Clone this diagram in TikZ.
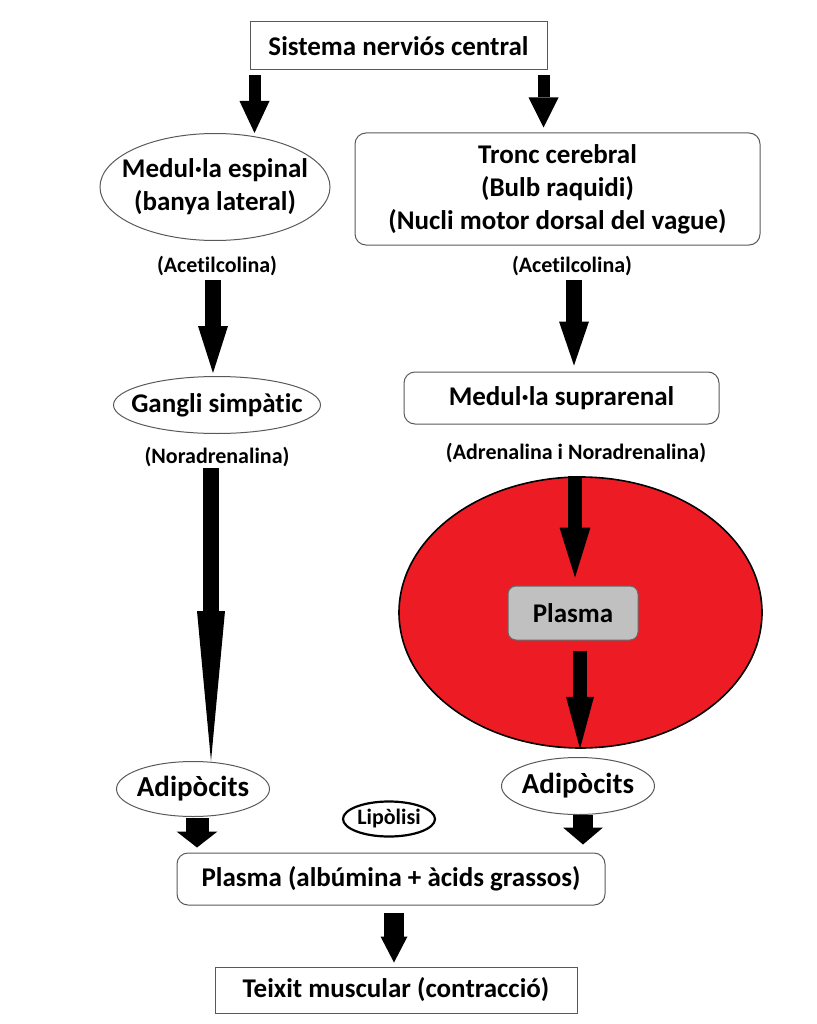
\documentclass[tikz,border=0pt]{standalone}
\usepackage{fontspec}
\setmainfont{Carlito}[Ligatures={NoCommon}]
\usetikzlibrary{arrows.meta,shapes.geometric,calc}
\definecolor{sangvermell}{RGB}{237,28,36}
\definecolor{grisplasma}{RGB}{192,192,192}
\newcommand\txtgran{\fontsize{27}{33}\selectfont\bfseries}
\newcommand\txtpetit{\fontsize{22}{26}\selectfont\bfseries}
\newcommand\txtadip{\fontsize{29}{33}\selectfont\bfseries}
\begin{document}
\begin{tikzpicture}[x=1pt,y=-1pt,font=\txtgran,
  caixa/.style={draw=black!65,line width=1pt,inner sep=0pt},
  rcaixa/.style={caixa,rounded corners=11pt},
  oval/.style={draw=black!65,line width=1pt,ellipse,inner sep=0pt},
  neuro/.style={font=\txtpetit,inner sep=1pt},
  fletxa/.style n args={3}{line width=#1,-{Triangle[width=#2,length=#3,line width=0pt]}}]
\useasboundingbox (0,0) rectangle (816,1024);
\node[caixa,minimum width=297pt,minimum height=48pt] (snc) at (398.5,46) {Sistema nerviós central};
\node[oval,minimum width=230pt,minimum height=107pt,label={[align=center]center:Medul·la espinal\\(banya lateral)}] (me) at (215,187) {};
\node[rcaixa,minimum width=405pt,minimum height=112pt,align=center] (tc) at (557.5,189) {Tronc cerebral\\(Bulb raquidi)\\(Nucli motor dorsal del vague)};
\node[neuro] (acL) at (217,266) {(Acetilcolina)};
\node[neuro] (acR) at (572,266) {(Acetilcolina)};
\node[oval,minimum width=207pt,minimum height=57pt,label=center:Gangli simpàtic] (gs) at (217,405) {};
\node[rcaixa,minimum width=315pt,minimum height=52pt] (ms) at (561.5,398) {Medul·la suprarenal};
\node[neuro] (noL) at (217,457) {(Noradrenalina)};
\node[neuro] (adr) at (576,453) {(Adrenalina i Noradrenalina)};
\node[ellipse,draw=black,line width=1.6pt,fill=sangvermell,inner sep=0pt,minimum width=363pt,minimum height=271pt] (sang) at (580.5,612.5) {};
\node[rcaixa,draw=black!60,fill=grisplasma,rounded corners=8pt,minimum width=130pt,minimum height=54pt] (pl) at (573,613) {Plasma};
\node[oval,minimum width=153pt,minimum height=55pt,label={[font=\txtadip]center:Adipòcits}] (adL) at (193,789) {};
\node[oval,minimum width=153pt,minimum height=57pt,label={[font=\txtadip]center:Adipòcits}] (adR) at (578,786) {};
\node[oval,draw=black,line width=2.2pt,minimum width=92pt,minimum height=35pt,label={[font=\txtpetit]center:Lipòlisi}] (lip) at (389,819) {};
\node[rcaixa,minimum width=428pt,minimum height=52pt] (pag) at (391,879) {Plasma (albúmina + àcids grassos)};
\node[caixa,minimum width=362pt,minimum height=46pt] (tm) at (396,990) {Teixit muscular (contracció)};
\draw[fletxa={12pt}{30pt}{32pt},shorten <=5pt] ($(snc.south west)+(5,0)$) -- ($(snc.south west |- me.north)+(5,0)$);
\draw[fletxa={12pt}{30pt}{30pt},shorten <=5pt,shorten >=5pt] ($(snc.south east)+(-4,0)$) -- ($(snc.south east |- tc.north)+(-4,0)$);
\draw[fletxa={16pt}{30pt}{47pt},shorten <=3pt,shorten >=3pt] ($(acL.south)+(-4,0)$) -- ($(acL.south |- gs.north)+(-4,0)$);
\draw[fletxa={16pt}{30pt}{44pt},shorten <=3pt,shorten >=6pt] ($(acR.south)+(2,0)$) -- ($(acR.south |- ms.north)+(2,0)$);
\draw[fletxa={16pt}{28pt}{150pt}] ($(noL.south)+(-6,0)$) -- ($(noL.south |- adL.north)+(-6,0)$);
\draw[fletxa={14pt}{31pt}{50pt},shorten >=8pt] ($(sang.north)+(-5.5,0)$) -- ($(sang.north |- pl.north)+(-5.5,0)$);
\draw[fletxa={14pt}{28pt}{52pt},shorten <=10pt] ($(pl.south)+(7,0)$) -- ($(pl.south |- sang.south)+(7,0)$);
\draw[fletxa={23pt}{41pt}{16pt},shorten <=1pt,shorten >=5pt] ($(adL.south)+(4,0)$) -- ($(adL.south |- pag.north)+(4,0)$);
\draw[fletxa={20pt}{40pt}{17pt},shorten >=8pt] ($(adR.south)+(5,0)$) -- ($(adR.south |- pag.north)+(5,0)$);
\draw[fletxa={20pt}{27pt}{26pt},shorten <=7pt,shorten >=4pt] ($(pag.south)+(3,0)$) -- ($(pag.south |- tm.north)+(3,0)$);
\end{tikzpicture}
\end{document}
